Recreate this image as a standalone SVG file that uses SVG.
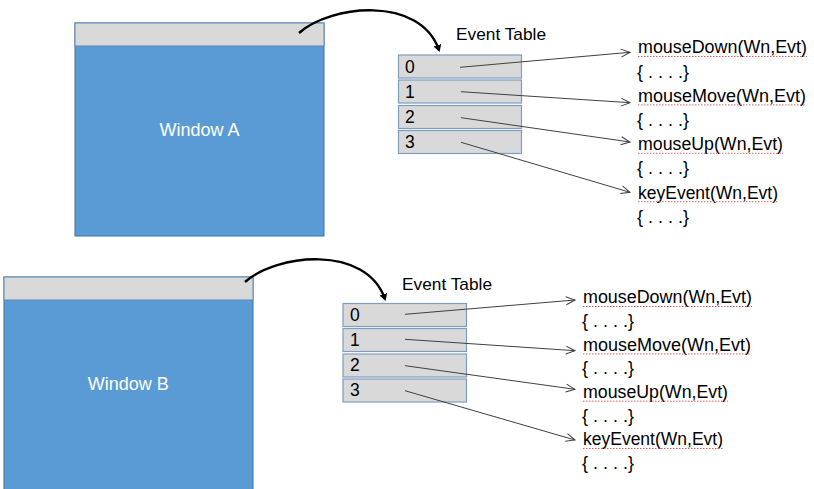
<svg xmlns="http://www.w3.org/2000/svg" width="814" height="489" viewBox="0 0 814 489">
<style>
.win{fill:#5B9BD5;stroke:#41719C;stroke-width:1}
.bar{fill:#D9D9D9;stroke:#5E87B5;stroke-width:1}
.row{fill:#D9D9D9;stroke:#7F9DC0;stroke-width:1.2}
.wl{font-family:"Liberation Sans",Arial,sans-serif;font-size:18px;fill:#ffffff}
.t{font-family:"Liberation Sans",Arial,sans-serif;font-size:18px;fill:#000000}
.d{font-family:"Liberation Sans",Arial,sans-serif;font-size:17.5px;fill:#000000}
.h{font-family:"Liberation Sans",Arial,sans-serif;font-size:17px;fill:#000000}
.ln{fill:none;stroke:#404040;stroke-width:1;marker-end:url(#open)}
.cv{fill:none;stroke:#000000;stroke-width:2.4;marker-end:url(#solid)}
.sq{fill:none;stroke:#E06060;stroke-width:1;stroke-dasharray:1.5 1.5}
</style>
<defs>
<marker id="open" markerWidth="12" markerHeight="12" refX="10" refY="5" orient="auto" markerUnits="userSpaceOnUse">
<path d="M1,1 L10,5 L1,9" fill="none" stroke="#404040" stroke-width="1"/>
</marker>
<marker id="solid" markerWidth="10" markerHeight="10" refX="5" refY="4" orient="auto" markerUnits="userSpaceOnUse">
<path d="M0,0 L7,4 L0,8 Z" fill="#000000"/>
</marker>
</defs>
<rect width="814" height="489" fill="#ffffff"/>

<g id="windowA">
<rect class="win" x="75" y="23" width="249" height="213"/>
<rect class="bar" x="75" y="23" width="249" height="23"/>
<text class="wl" x="199.5" y="136" text-anchor="middle">Window A</text>
</g>
<g id="tableA">
<text class="h" x="456" y="40" textLength="90" lengthAdjust="spacingAndGlyphs">Event Table</text>
<rect class="row" x="398.5" y="55" width="123" height="23"/>
<rect class="row" x="398.5" y="80" width="123" height="23"/>
<rect class="row" x="398.5" y="105.5" width="123" height="23"/>
<rect class="row" x="398.5" y="130.5" width="123" height="23"/>
<text class="d" x="405" y="73.3">0</text>
<text class="d" x="405" y="98.3">1</text>
<text class="d" x="405" y="123.3">2</text>
<text class="d" x="405" y="148.3">3</text>
</g>
<g id="handlersA">
<text class="t" x="638" y="53.3" textLength="169" lengthAdjust="spacingAndGlyphs">mouseDown(Wn,Evt)</text>
<text class="t" x="637" y="77.5">{ . . . .}</text>
<text class="t" x="638" y="101.7" textLength="168" lengthAdjust="spacingAndGlyphs">mouseMove(Wn,Evt)</text>
<text class="t" x="637" y="125.9">{ . . . .}</text>
<text class="t" x="638" y="150.1" textLength="145" lengthAdjust="spacingAndGlyphs">mouseUp(Wn,Evt)</text>
<text class="t" x="637" y="174.3">{ . . . .}</text>
<text class="t" x="638" y="198.5" textLength="140" lengthAdjust="spacingAndGlyphs">keyEvent(Wn,Evt)</text>
<text class="t" x="637" y="222.7">{ . . . .}</text>
<path class="sq" d="M638,56.5 H807 M638,104.9 H806 M638,153.3 H783 M638,201.7 H778"/>
</g>

<g id="windowB">
<rect class="win" x="4" y="277" width="249" height="220"/>
<rect class="bar" x="4" y="277" width="249" height="23"/>
<text class="wl" x="128.3" y="390" text-anchor="middle">Window B</text>
</g>
<g id="tableB">
<text class="h" x="402" y="289.5" textLength="90" lengthAdjust="spacingAndGlyphs">Event Table</text>
<rect class="row" x="343" y="303.5" width="123.5" height="23"/>
<rect class="row" x="343" y="328.5" width="123.5" height="23"/>
<rect class="row" x="343" y="354" width="123.5" height="23"/>
<rect class="row" x="343" y="379" width="123.5" height="23"/>
<text class="d" x="350" y="320.7">0</text>
<text class="d" x="350" y="345.7">1</text>
<text class="d" x="350" y="371.2">2</text>
<text class="d" x="350" y="396">3</text>
</g>
<g id="handlersB">
<text class="t" x="583" y="303.3" textLength="169" lengthAdjust="spacingAndGlyphs">mouseDown(Wn,Evt)</text>
<text class="t" x="582" y="327">{ . . . .}</text>
<text class="t" x="583" y="350.7" textLength="168" lengthAdjust="spacingAndGlyphs">mouseMove(Wn,Evt)</text>
<text class="t" x="582" y="374.3">{ . . . .}</text>
<text class="t" x="583" y="398" textLength="145" lengthAdjust="spacingAndGlyphs">mouseUp(Wn,Evt)</text>
<text class="t" x="582" y="421.7">{ . . . .}</text>
<text class="t" x="583" y="445.3" textLength="140" lengthAdjust="spacingAndGlyphs">keyEvent(Wn,Evt)</text>
<text class="t" x="582" y="469">{ . . . .}</text>
<path class="sq" d="M583,306.5 H752 M583,353.9 H751 M583,401.2 H728 M583,448.5 H723"/>
</g>

<g id="connectors">
<path class="cv" d="M299,33 C330,5 420,-5 439,50"/>
<line class="ln" x1="460" y1="67.3" x2="630" y2="52.3"/>
<line class="ln" x1="461" y1="91.7" x2="630" y2="102.7"/>
<line class="ln" x1="461" y1="117.7" x2="630" y2="142"/>
<line class="ln" x1="461" y1="142.3" x2="630" y2="192.3"/>
<path class="cv" d="M245,282 C276,254 366,244 385,299"/>
<line class="ln" x1="405" y1="314.3" x2="575" y2="300"/>
<line class="ln" x1="405" y1="339.3" x2="575" y2="350.7"/>
<line class="ln" x1="405" y1="365.7" x2="575" y2="389.3"/>
<line class="ln" x1="405" y1="390.7" x2="575" y2="440"/>
</g>
</svg>
